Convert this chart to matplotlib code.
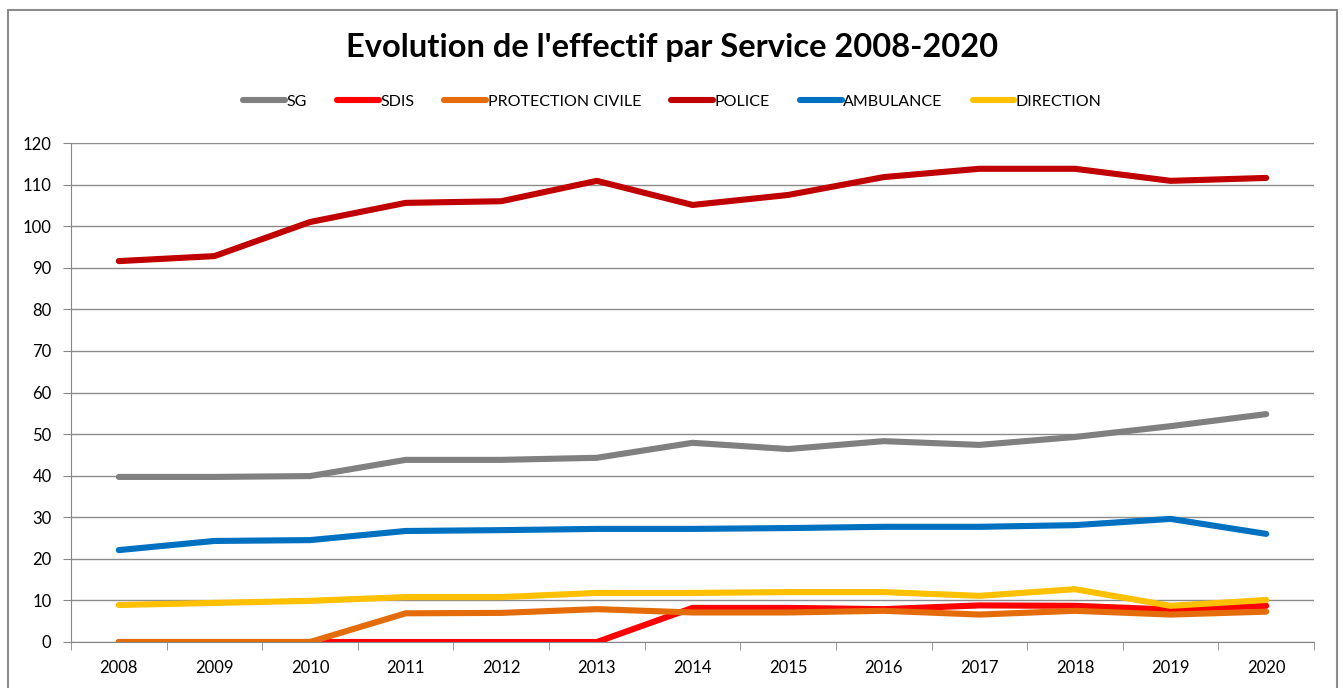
import matplotlib
matplotlib.use("Agg")
import matplotlib.pyplot as plt
from matplotlib.patches import Rectangle
import numpy as np

plt.rcParams['font.family'] = ['Lato', 'DejaVu Sans']

years = [2008, 2009, 2010, 2011, 2012, 2013, 2014, 2015, 2016, 2017, 2018, 2019, 2020]
sg = [39.7, 39.7, 39.9, 43.8, 43.8, 44.3, 47.9, 46.4, 48.3, 47.4, 49.3, 51.9, 54.8]
sdis = [0, 0, 0, 0, 0, 0, 8.2, 8.2, 7.9, 8.8, 8.7, 7.8, 8.7]
protection_civile = [0, 0, 0, 6.9, 7.0, 7.9, 7.1, 7.1, 7.5, 6.6, 7.5, 6.6, 7.3]
police = [91.6, 92.8, 101.0, 105.6, 106.0, 110.9, 105.1, 107.5, 111.8, 113.8, 113.8, 110.9, 111.6]
ambulance = [22.1, 24.3, 24.5, 26.7, 26.9, 27.2, 27.2, 27.4, 27.7, 27.7, 28.1, 29.6, 26.0]
direction = [8.9, 9.4, 9.9, 10.8, 10.8, 11.8, 11.8, 12.0, 12.0, 11.1, 12.7, 8.7, 10.1]

series = [
    ("SG", sg, "#808080"),
    ("SDIS", sdis, "#FF0000"),
    ("PROTECTION CIVILE", protection_civile, "#E46C0A"),
    ("POLICE", police, "#C00000"),
    ("AMBULANCE", ambulance, "#0070C0"),
    ("DIRECTION", direction, "#FFC000"),
]

W, H = 1343, 688
fig = plt.figure(figsize=(W / 100, H / 100), dpi=100)
ax = fig.add_axes([71 / W, 1 - 642 / H, (1314 - 71) / W, (642 - 143) / H])

# chart border
fig.patches.append(Rectangle((8 / W, -0.01), (1337 - 8) / W, 1 - 10 / H + 0.01,
                             transform=fig.transFigure, fill=False,
                             edgecolor="#8c8c8c", linewidth=1.5))

x = np.arange(len(years))
for name, vals, col in series:
    ax.plot(x, vals, color=col, linewidth=4.4, label=name,
            solid_capstyle="round", solid_joinstyle="round")

ax.set_xlim(-0.5, len(years) - 0.5)
ax.set_ylim(0, 120)
ax.set_yticks(range(0, 121, 10))
ax.set_xticks(x)
ax.set_xticklabels([str(y) for y in years])
ax.set_xticks(np.arange(-0.5, len(years), 1), minor=True)
ax.tick_params(axis="x", which="major", length=0, pad=13, labelsize=12, colors="#000000")
ax.tick_params(axis="x", which="minor", length=6, color="#878787", direction="out")
ax.tick_params(axis="y", length=6, color="#878787", labelsize=12, pad=8)
ax.grid(axis="y", color="#8c8c8c", linewidth=1)
ax.set_axisbelow(True)
for s in ["top", "right"]:
    ax.spines[s].set_visible(False)
for s in ["left", "bottom"]:
    ax.spines[s].set_color("#878787")

cx = 0.5 * (8 + 1337) / W
fig.text(cx, 1 - 48 / H, "Evolution de l'effectif par Service 2008-2020",
         ha="center", va="center", fontsize=23.5, fontweight="bold")

fig.legend(loc="center", bbox_to_anchor=(cx, 1 - 102 / H), ncol=6,
           frameon=False, fontsize=11.5, handlelength=2.6, handletextpad=0.1,
           columnspacing=1.9)

fig.savefig("out.png", dpi=100)
